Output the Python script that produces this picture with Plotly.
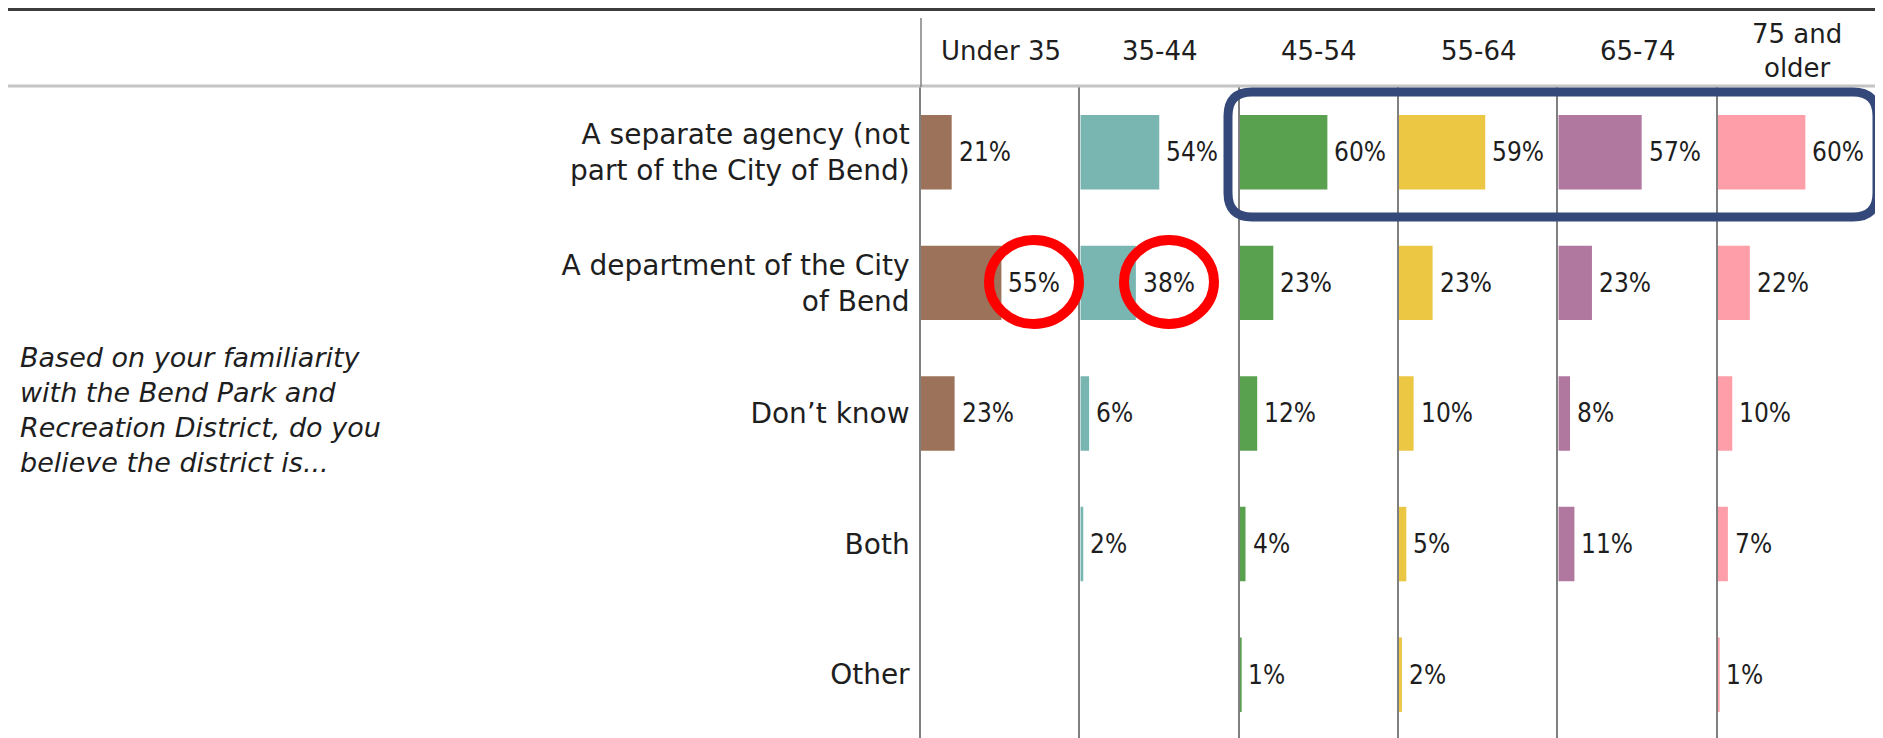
import plotly.graph_objects as go
from plotly.subplots import make_subplots

# ---------------- data ----------------
categories = [
    "A separate agency (not<br>part of the City of Bend)",
    "A department of the City<br>of Bend",
    "Don’t know",
    "Both",
    "Other",
]
age_groups = ["Under 35", "35-44", "45-54", "55-64", "65-74", "75 and<br>older"]
under_35 = [21, 55, 23, None, None]
age_35_44 = [54, 38, 6, 2, None]
age_45_54 = [60, 23, 12, 4, 1]
age_55_64 = [59, 23, 10, 5, 2]
age_65_74 = [57, 23, 8, 11, None]
age_75_plus = [60, 22, 10, 7, 1]
series = [under_35, age_35_44, age_45_54, age_55_64, age_65_74, age_75_plus]
colors = ["#9c735a", "#79b6b2", "#59a14f", "#ebc743", "#b0779f", "#fe9ea8"]
question = ("Based on your familiarity<br>with the Bend Park and<br>"
            "Recreation District, do you<br>believe the district is...")

# ---------------- layout geometry ----------------
OFF = 8                      # page body margin of the html page
W, H = 1883 - OFF, 738 - OFF
L, R, T, B = 921 - OFF, 6, 87 - OFF, 0
PW, PH = W - L - R, H - T - B

def px_x(p):                 # page pixel -> paper
    return (p - OFF - L) / PW

def px_y(p):
    return 1 - (p - OFF - T) / PH

FONT = "DejaVu Sans"
NARROW = "DejaVu Sans Condensed, Liberation Sans Narrow, DejaVu Sans"
TXT = "#1e1e1e"

fig = make_subplots(rows=1, cols=6, shared_yaxes=True, horizontal_spacing=0)

for i, (vals, col) in enumerate(zip(series, colors), start=1):
    sfx = "" if i == 1 else str(i)
    fig.add_trace(
        go.Bar(x=vals, y=categories, orientation="h", marker=dict(color=col, line=dict(width=0)),
               hoverinfo="x+y", showlegend=False),
        row=1, col=i,
    )
    for cat, v in zip(categories, vals):
        if v is None:
            continue
        fig.add_annotation(
            x=v, y=cat, xref=f"x{sfx}", yref=f"y{sfx}", text=f"{v}%", showarrow=False,
            xanchor="left", yanchor="middle", xshift=5,
            font=dict(family=NARROW, size=26, color=TXT),
        )
    fig.update_xaxes(range=[0, 109], showgrid=False, zeroline=False, showticklabels=False,
                     showline=False, fixedrange=True, row=1, col=i)
    fig.update_yaxes(showline=True, linecolor="#808080", linewidth=1.5, showgrid=False,
                     zeroline=False, ticks="", row=1, col=i)
    # column header
    fig.add_annotation(
        x=0.5, y=px_y(51), xref=f"x{sfx} domain", yref="paper", text=age_groups[i - 1],
        showarrow=False, xanchor="center", yanchor="middle",
        font=dict(family=FONT, size=26, color=TXT),
    )

fig.update_yaxes(type="category", categoryorder="array", categoryarray=categories,
                 range=[4.485, -0.5])
fig.update_yaxes(showticklabels=True, ticklabelstandoff=4,
                 tickfont=dict(family=FONT, size=28, color=TXT), row=1, col=1)

# question text on the left
fig.add_annotation(
    x=px_x(18), y=px_y(410), xref="paper", yref="paper", text=question, showarrow=False,
    xanchor="left", yanchor="middle", align="left",
    font=dict(family=FONT, size=27, color=TXT, style="italic"),
)

shapes = []
# top dark rule
shapes.append(dict(type="line", xref="paper", yref="paper", x0=px_x(0), x1=px_x(1883),
                   y0=px_y(OFF + 1.5), y1=px_y(OFF + 1.5), line=dict(color="#3c3c3c", width=3)))
# header separator
shapes.append(dict(type="line", xref="paper", yref="paper", x0=px_x(0), x1=px_x(1883),
                   y0=px_y(86), y1=px_y(86), line=dict(color="#c4c4c4", width=3)))
# first divider extends into header
shapes.append(dict(type="line", xref="paper", yref="paper", x0=0, x1=0,
                   y0=px_y(18), y1=1, line=dict(color="#808080", width=1.5)))
# light right border of header
shapes.append(dict(type="line", xref="paper", yref="paper", x0=px_x(1876), x1=px_x(1876),
                   y0=px_y(18), y1=1, line=dict(color="#dedede", width=1.5)))

# navy rounded rectangle highlight
x0, x1, y0, y1, r = 1228, 1877, 92, 217, 24
def P(x, y):
    return f"{px_x(x):.5f},{px_y(y):.5f}"
path = (f"M {P(x0 + r, y0)} L {P(x1 - r, y0)} Q {P(x1, y0)} {P(x1, y0 + r)} "
        f"L {P(x1, y1 - r)} Q {P(x1, y1)} {P(x1 - r, y1)} "
        f"L {P(x0 + r, y1)} Q {P(x0, y1)} {P(x0, y1 - r)} "
        f"L {P(x0, y0 + r)} Q {P(x0, y0)} {P(x0 + r, y0)} Z")
shapes.append(dict(type="path", xref="paper", yref="paper", path=path,
                   line=dict(color="#34497a", width=9)))

# red circles
for cx, cy in [(1034, 282), (1169, 282)]:
    shapes.append(dict(type="circle", xref="paper", yref="paper",
                       x0=px_x(cx - 45), x1=px_x(cx + 45), y0=px_y(cy + 42), y1=px_y(cy - 42),
                       line=dict(color="#ff0000", width=10)))

fig.update_layout(
    width=W, height=H, margin=dict(l=L, r=R, t=T, b=B, pad=0),
    paper_bgcolor="white", plot_bgcolor="white",
    bargap=0.43, shapes=shapes, showlegend=False,
    font=dict(family=FONT, color=TXT),
)

fig.write_html("out.html")
